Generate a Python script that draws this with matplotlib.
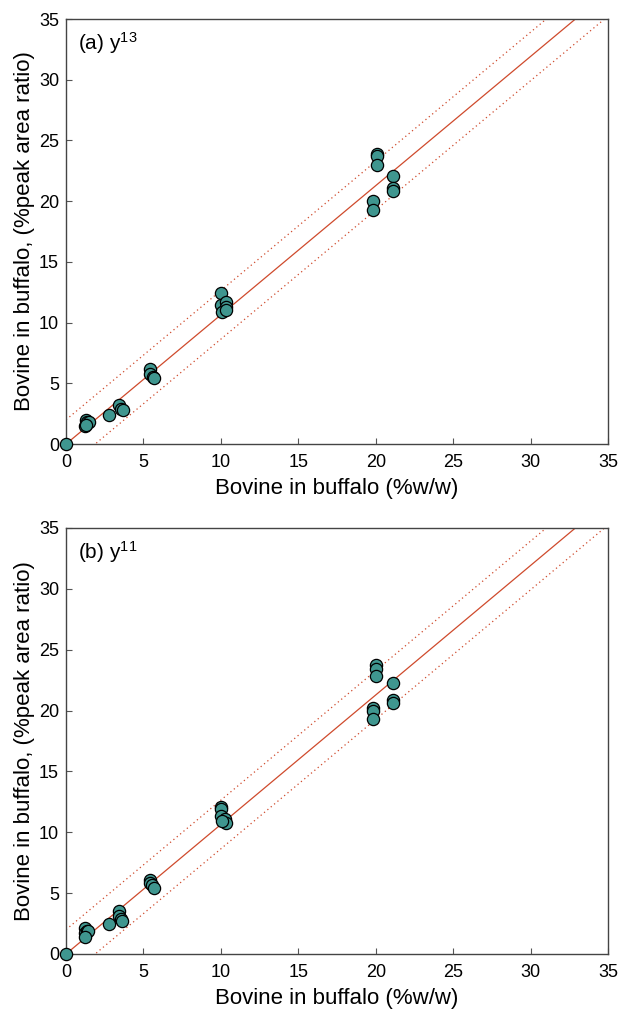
import numpy as np
import matplotlib
matplotlib.use('Agg')
import matplotlib.pyplot as plt

plt.rcParams['font.family'] = ['Liberation Sans', 'DejaVu Sans']
plt.rcParams['mathtext.default'] = 'regular'

# panel (a) y13
xa = [0, 1.2, 1.3, 1.35, 1.5, 1.3, 2.8, 3.45, 3.55, 3.65,
      5.4, 5.4, 5.6, 5.7, 10.0, 10.0, 10.35, 10.3, 10.1, 10.3,
      20.05, 20.05, 20.05, 19.85, 19.85, 21.1, 21.1, 21.1]
ya = [0, 1.5, 2.0, 1.8, 1.8, 1.6, 2.4, 3.2, 2.9, 2.8,
      6.15, 5.8, 5.55, 5.4, 12.45, 11.45, 11.7, 11.25, 10.9, 11.0,
      23.9, 23.75, 23.0, 20.0, 19.3, 22.1, 21.05, 20.85]

# panel (b) y11
xb = [0, 1.2, 1.25, 1.35, 1.45, 1.2, 2.75, 3.4, 3.45, 3.55, 3.6,
      5.4, 5.45, 5.55, 5.65, 10.0, 10.0, 10.0, 10.25, 10.35, 10.05,
      20.0, 20.0, 20.0, 19.8, 19.8, 19.8, 21.1, 21.1, 21.1]
yb = [0, 2.1, 1.7, 1.9, 1.85, 1.4, 2.5, 3.5, 3.15, 2.9, 2.75,
      6.1, 5.8, 5.7, 5.4, 12.1, 11.95, 11.35, 11.1, 10.8, 10.9,
      23.7, 23.45, 22.85, 20.2, 20.0, 19.3, 22.25, 20.9, 20.6]

slope_a, band_a = 1.064, 2.0
slope_b, band_b = 1.064, 2.0
labels = ['(a) y$^{13}$', '(b) y$^{11}$']
ticks = [0, 5, 10, 15, 20, 25, 30, 35]

fig = plt.figure(figsize=(6.2, 10.11), dpi=100)
ax1 = fig.add_axes([0.1065, 0.5608, 0.8742, 0.4204])
ax2 = fig.add_axes([0.1065, 0.0564, 0.8742, 0.4214])

line_col = '#cf4a2c'
for ax, x, y, s, b, lab in [(ax1, xa, ya, slope_a, band_a, labels[0]),
                            (ax2, xb, yb, slope_b, band_b, labels[1])]:
    xl = np.array([0, 40])
    ax.plot(xl, s * xl, color=line_col, lw=0.9)
    ax.plot(xl, s * xl + b, color=line_col, lw=0.9, ls=(0, (1, 2.5)))
    ax.plot(xl, s * xl - b, color=line_col, lw=0.9, ls=(0, (1, 2.5)))
    ax.plot(x, y, 'o', ms=8.8, mfc='#3f968f', mec='black', mew=0.9,
            clip_on=False, zorder=3)
    ax.set_xlim(0, 35)
    ax.set_ylim(0, 35)
    ax.set_xticks(ticks)
    ax.set_yticks(ticks)
    ax.tick_params(direction='in', length=4, width=0.8, labelsize=13,
                   color='#555555')
    ax.tick_params(axis='x', pad=7)
    ax.tick_params(axis='y', pad=5)
    for sp in ax.spines.values():
        sp.set_linewidth(1.0)
        sp.set_color('#444444')
    ax.set_xlabel('Bovine in buffalo (%w/w)', fontsize=16, labelpad=5)
    ax.set_ylabel('Bovine in buffalo, (%peak area ratio)', fontsize=16, labelpad=3)
    ax.text(0.022, 0.944, lab, transform=ax.transAxes, fontsize=15, va='center')

fig.savefig('out.png', dpi=100)
